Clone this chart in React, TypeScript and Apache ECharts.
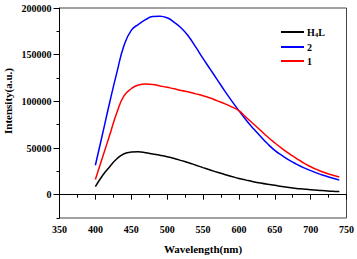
import React, { useEffect, useRef } from "react";
import * as echarts from "echarts";

const wavelengths = [400, 410, 420, 430, 440, 450, 460, 470, 480, 490, 500, 510, 520, 530, 540, 550, 560, 570, 580, 590, 600, 610, 620, 630, 640, 650, 660, 670, 680, 690, 700, 710, 720, 730, 740];

const h4l = [8500, 20500, 30000, 38500, 43800, 45600, 45900, 45000, 43600, 42200, 40600, 38700, 36500, 34200, 31600, 29000, 26500, 24000, 21700, 19500, 17400, 15600, 13900, 12400, 11100, 10000, 8700, 7600, 6700, 6000, 5300, 4700, 4200, 3700, 3300];

const complex2 = [31500, 65000, 99000, 131000, 160000, 176000, 182500, 187500, 191000, 191200, 189500, 184500, 178300, 169500, 158000, 146000, 134500, 123000, 111500, 100500, 90000, 80000, 71000, 62500, 54500, 47500, 42000, 37000, 32800, 29000, 25800, 22800, 20200, 17800, 15600];

const complex1 = [16300, 40000, 64000, 88000, 106000, 113500, 117500, 118500, 118000, 116500, 115000, 113500, 111500, 110000, 108000, 106000, 103500, 100500, 97500, 94000, 90000, 83000, 76000, 69000, 62000, 55500, 49500, 44000, 39000, 34000, 30000, 26500, 23500, 21000, 19000];

const seriesNames = ["H4L", "2", "1"];
const seriesColors = ["#000000", "#0000ff", "#ff0000"];

const FONT = "Liberation Serif";

export default function App() {
  const ref = useRef<HTMLDivElement>(null);
  useEffect(() => {
    if (!ref.current) return;
    const chart = echarts.init(ref.current, undefined, { renderer: "svg" });
    const toPairs = (arr: number[]) => wavelengths.map((w, i) => [w, arr[i]]);
    const allData = [h4l, complex2, complex1];
    chart.setOption({
      animation: false,
      backgroundColor: "#ffffff",
      textStyle: { fontFamily: FONT },
      grid: {
        left: 59.5,
        right: 10,
        top: 8,
        bottom: 40,
        show: true,
        borderColor: "#444",
        borderWidth: 1,
        backgroundColor: "transparent",
      },
      legend: {
        orient: "vertical",
        left: 276,
        top: 22,
        itemWidth: 23,
        itemHeight: 2,
        itemGap: 4,
        icon: "rect",
        data: seriesNames,
        formatter: (name: string) => (name === "H4L" ? "{b|H}{sub|4}{b|L}" : "{b|" + name + "}"),
        textStyle: {
          fontFamily: FONT,
          fontWeight: "bold",
          fontSize: 10,
          color: "#000",
          padding: [0, 0, 0, -2],
          rich: {
            b: { fontFamily: FONT, fontWeight: "bold", fontSize: 10, color: "#000" },
            sub: { fontFamily: FONT, fontWeight: "bold", fontSize: 7, color: "#000", padding: [5, 0, 0, 0] },
          },
        },
      },
      xAxis: {
        type: "value",
        min: 350,
        max: 750,
        interval: 50,
        name: "Wavelength(nm)",
        nameLocation: "middle",
        nameGap: 25,
        nameTextStyle: { fontFamily: FONT, fontWeight: "bold", fontSize: 11, color: "#000" },
        axisLine: { show: true, lineStyle: { color: "#000", width: 1 } },
        axisTick: { show: true, length: 5, lineStyle: { color: "#000" } },
        minorTick: { show: true, splitNumber: 2, length: 3, lineStyle: { color: "#000" } },
        axisLabel: { fontFamily: FONT, fontWeight: "bold", fontSize: 10, color: "#000", margin: 6 },
        splitLine: { show: false },
      },
      yAxis: [
        {
          type: "value",
          position: "left",
          min: -25000,
          max: 200000,
          interval: 25000,
          axisLine: { show: true, lineStyle: { color: "#000", width: 1 } },
          axisTick: { show: true, length: 3, lineStyle: { color: "#000" } },
          axisLabel: { show: false },
          splitLine: { show: false },
        },
        {
          type: "value",
          position: "left",
          inverse: true,
          min: -200000,
          max: 25000,
          interval: 50000,
          axisLine: { show: false },
          axisTick: { show: true, length: 6, lineStyle: { color: "#000" } },
          axisLabel: {
            fontFamily: FONT,
            fontWeight: "bold",
            fontSize: 10,
            color: "#000",
            margin: 8,
            showMaxLabel: false,
            formatter: (v: number) => (v > 0 ? "" : String(v === 0 ? 0 : -v)),
          },
          splitLine: { show: false },
        },
      ],
      graphic: [
        {
          type: "text",
          x: 8,
          y: 101,
          rotation: Math.PI / 2,
          style: {
            text: "Intensity(a.u.)",
            fontFamily: FONT,
            fontWeight: "bold",
            fontSize: 11,
            fill: "#000",
            align: "center",
            verticalAlign: "middle",
          },
        },
      ],
      series: seriesNames.map((name, i) => ({
        name,
        type: "line",
        xAxisIndex: 0,
        yAxisIndex: 0,
        smooth: true,
        showSymbol: false,
        symbol: "none",
        data: toPairs(allData[i]),
        lineStyle: { color: seriesColors[i], width: 1.5 },
        itemStyle: { color: seriesColors[i] },
      })),
    });
    return () => chart.dispose();
  }, []);
  return <div ref={ref} style={{ width: 357, height: 259, position: "absolute", left: 0, top: 0 }} />;
}
